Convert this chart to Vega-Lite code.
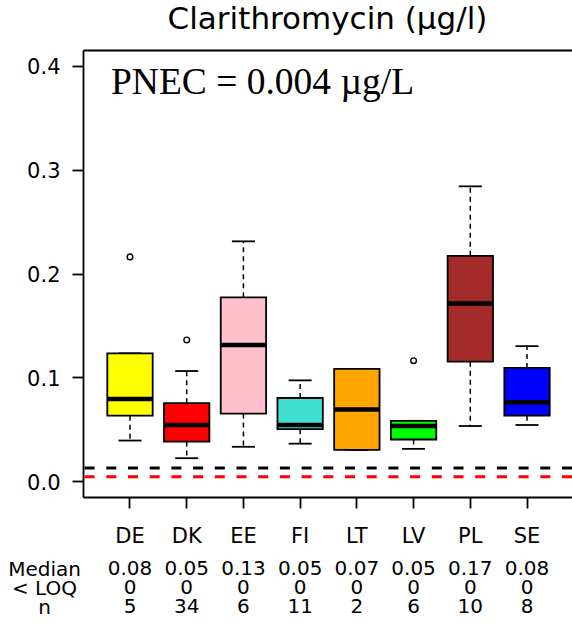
{
  "$schema": "https://vega.github.io/schema/vega-lite/v6.json",
  "autosize": {"type": "none"},
  "padding": {"left": 83, "top": 50, "right": 0, "bottom": 128},
  "width": 489,
  "height": 447,
  "background": "white",
  "config": {"view": {"stroke": null}, "font": "DejaVu Sans"},
  "title": {"text": "Clarithromycin (µg/l)", "font": "DejaVu Sans", "fontSize": 31, "fontWeight": "normal", "color": "black", "anchor": "middle", "frame": "group", "baseline": "bottom", "offset": 14, "dy": 31},
  "datasets": {
    "boxes": [
      {"country": "DE", "lower": 0.039, "q1": 0.063, "median": 0.079, "q3": 0.123, "upper": 0.123},
      {"country": "DK", "lower": 0.022, "q1": 0.038, "median": 0.054, "q3": 0.075, "upper": 0.106},
      {"country": "EE", "lower": 0.033, "q1": 0.065, "median": 0.131, "q3": 0.177, "upper": 0.231},
      {"country": "FI", "lower": 0.036, "q1": 0.050, "median": 0.054, "q3": 0.080, "upper": 0.097},
      {"country": "LT", "lower": 0.030, "q1": 0.030, "median": 0.069, "q3": 0.108, "upper": 0.108},
      {"country": "LV", "lower": 0.031, "q1": 0.040, "median": 0.053, "q3": 0.058, "upper": 0.058},
      {"country": "PL", "lower": 0.053, "q1": 0.115, "median": 0.171, "q3": 0.217, "upper": 0.284},
      {"country": "SE", "lower": 0.054, "q1": 0.063, "median": 0.076, "q3": 0.109, "upper": 0.130}
    ],
    "outliers": [
      {"country": "DE", "value": 0.216},
      {"country": "DK", "value": 0.136},
      {"country": "LV", "value": 0.116}
    ],
    "refs": [
      {"line": "black dashed", "value": 0.0125},
      {"line": "PNEC", "value": 0.004}
    ],
    "table": [
      {"country": "DE", "row": "Median", "value": "0.08"},
      {"country": "DK", "row": "Median", "value": "0.05"},
      {"country": "EE", "row": "Median", "value": "0.13"},
      {"country": "FI", "row": "Median", "value": "0.05"},
      {"country": "LT", "row": "Median", "value": "0.07"},
      {"country": "LV", "row": "Median", "value": "0.05"},
      {"country": "PL", "row": "Median", "value": "0.17"},
      {"country": "SE", "row": "Median", "value": "0.08"},
      {"country": "DE", "row": "< LOQ", "value": "0"},
      {"country": "DK", "row": "< LOQ", "value": "0"},
      {"country": "EE", "row": "< LOQ", "value": "0"},
      {"country": "FI", "row": "< LOQ", "value": "0"},
      {"country": "LT", "row": "< LOQ", "value": "0"},
      {"country": "LV", "row": "< LOQ", "value": "0"},
      {"country": "PL", "row": "< LOQ", "value": "0"},
      {"country": "SE", "row": "< LOQ", "value": "0"},
      {"country": "DE", "row": "n", "value": "5"},
      {"country": "DK", "row": "n", "value": "34"},
      {"country": "EE", "row": "n", "value": "6"},
      {"country": "FI", "row": "n", "value": "11"},
      {"country": "LT", "row": "n", "value": "2"},
      {"country": "LV", "row": "n", "value": "6"},
      {"country": "PL", "row": "n", "value": "10"},
      {"country": "SE", "row": "n", "value": "8"}
    ]
  },
  "resolve": {"scale": {"y": "independent"}, "axis": {"x": "independent", "y": "independent"}},
  "layer": [
    {
      "layer": [
        {
          "data": {"name": "boxes"},
          "mark": {"type": "rule", "strokeDash": [5, 4], "strokeWidth": 1.5, "color": "black"},
          "encoding": {
            "x": {"field": "country", "type": "nominal", "scale": {"domain": ["DE", "DK", "EE", "FI", "LT", "LV", "PL", "SE"], "range": [0, 491], "paddingInner": 0, "paddingOuter": 0.3285},
              "axis": {"orient": "top", "labels": false, "ticks": false, "title": null, "domainColor": "black", "domainWidth": 1.8}},
            "y": {"field": "q1", "type": "quantitative", "scale": {"domain": [-0.0154, 0.4154], "nice": false, "zero": false},
              "axis": {"orient": "left", "values": [0, 0.1, 0.2, 0.3, 0.4], "format": ".1f", "title": null, "grid": false, "tickSize": 11, "tickWidth": 1.8, "tickColor": "black", "domainColor": "black", "domainWidth": 1.8, "labelFont": "DejaVu Sans", "labelFontSize": 21, "labelColor": "black", "labelPadding": 12, "labelOffset": 2}},
            "y2": {"field": "lower"}
          }
        },
        {
          "data": {"name": "boxes"},
          "mark": {"type": "rule", "strokeDash": [5, 4], "strokeWidth": 1.5, "color": "black"},
          "encoding": {
            "x": {"field": "country", "type": "nominal", "axis": null},
            "y": {"field": "q3", "type": "quantitative"},
            "y2": {"field": "upper"}
          }
        },
        {
          "data": {"name": "boxes"},
          "mark": {"type": "tick", "size": 23, "thickness": 1.8, "color": "black", "opacity": 1},
          "encoding": {
            "x": {"field": "country", "type": "nominal", "axis": null},
            "y": {"field": "lower", "type": "quantitative"}
          }
        },
        {
          "data": {"name": "boxes"},
          "mark": {"type": "tick", "size": 23, "thickness": 1.8, "color": "black", "opacity": 1},
          "encoding": {
            "x": {"field": "country", "type": "nominal", "axis": null},
            "y": {"field": "upper", "type": "quantitative"}
          }
        },
        {
          "data": {"name": "boxes"},
          "mark": {"type": "bar", "width": {"band": 0.8}, "stroke": "black", "strokeWidth": 1.8, "opacity": 1},
          "encoding": {
            "x": {"field": "country", "type": "nominal",
              "axis": {"orient": "bottom", "title": null, "tickSize": 11, "tickWidth": 1.8, "tickColor": "black", "domainColor": "black", "domainWidth": 1.8, "labelFont": "DejaVu Sans", "labelFontSize": 21, "labelColor": "black", "labelAngle": 0, "labelBaseline": "alphabetic", "labelPadding": 34}},
            "y": {"field": "q1", "type": "quantitative"},
            "y2": {"field": "q3"},
            "fill": {"field": "country", "type": "nominal", "scale": {"domain": ["DE", "DK", "EE", "FI", "LT", "LV", "PL", "SE"], "range": ["#FFFF00", "#FF0000", "#FFC0CB", "#40E0D0", "#FFA500", "#00FF00", "#A52A2A", "#0000FF"]}, "legend": null}
          }
        },
        {
          "data": {"name": "boxes"},
          "mark": {"type": "tick", "size": 45.4, "thickness": 4.5, "color": "black", "opacity": 1},
          "encoding": {
            "x": {"field": "country", "type": "nominal", "axis": null},
            "y": {"field": "median", "type": "quantitative"}
          }
        },
        {
          "data": {"name": "outliers"},
          "mark": {"type": "point", "shape": "circle", "filled": false, "stroke": "black", "strokeWidth": 1.4, "size": 32, "opacity": 1},
          "encoding": {
            "x": {"field": "country", "type": "nominal", "axis": null},
            "y": {"field": "value", "type": "quantitative"}
          }
        },
        {
          "data": {"name": "refs"},
          "mark": {"type": "rule", "strokeDash": [10, 11.7], "strokeWidth": 3},
          "encoding": {
            "y": {"field": "value", "type": "quantitative"},
            "stroke": {"field": "line", "type": "nominal", "scale": {"domain": ["black dashed", "PNEC"], "range": ["black", "#FF0000"]}, "legend": null}
          }
        },
        {
          "data": {"values": [{"note": "PNEC = 0.004 µg/L"}]},
          "mark": {"type": "text", "font": "Liberation Serif", "fontSize": 37.5, "align": "left", "baseline": "alphabetic", "dx": -19, "color": "black"},
          "encoding": {
            "x": {"datum": "DE", "type": "nominal", "axis": null},
            "y": {"datum": 0.3727, "type": "quantitative"},
            "text": {"field": "note"}
          }
        }
      ]
    },
    {
      "data": {"name": "table"},
      "mark": {"type": "text", "font": "DejaVu Sans", "fontSize": 20, "baseline": "alphabetic", "align": "center", "color": "black"},
      "encoding": {
        "x": {"field": "country", "type": "nominal", "axis": null},
        "y": {"field": "row", "type": "nominal", "scale": {"type": "point", "domain": ["Median", "< LOQ", "n"], "range": [525, 563], "padding": 0},
          "axis": {"orient": "right", "offset": -528, "title": null, "domain": false, "ticks": false, "tickSize": 0, "labelAlign": "center", "labelPadding": 0, "labelBaseline": "alphabetic", "labelFont": "DejaVu Sans", "labelFontSize": 20, "labelColor": "black"}},
        "text": {"field": "value"}
      }
    }
  ]
}
